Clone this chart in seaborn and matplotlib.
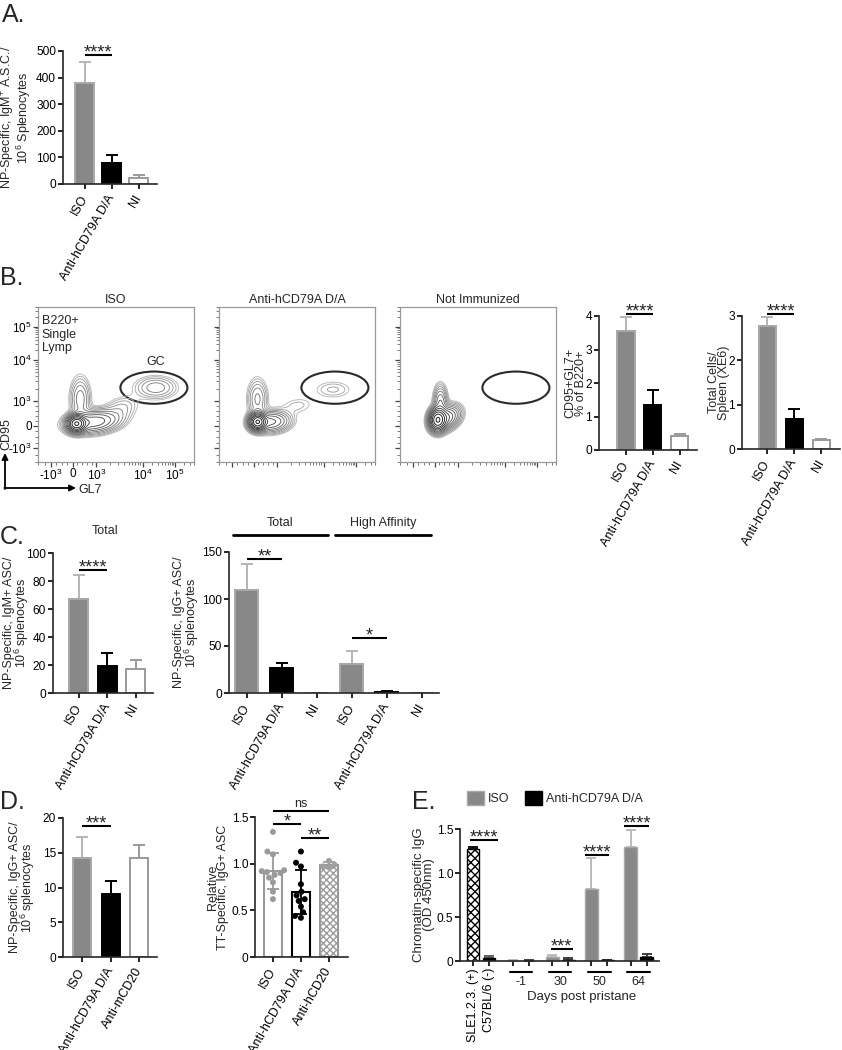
import numpy as np
import pandas as pd
import matplotlib
matplotlib.use('Agg')
import matplotlib.pyplot as plt
import seaborn as sns
from matplotlib.patches import Ellipse, Patch
from matplotlib.lines import Line2D

sns.set_style('ticks')
plt.rcParams['font.family'] = ['Liberation Sans', 'DejaVu Sans']
plt.rcParams['mathtext.default'] = 'regular'
plt.rcParams['axes.linewidth'] = 1.2
for k in ['xtick', 'ytick']:
    plt.rcParams[k + '.major.width'] = 1.2
    plt.rcParams[k + '.major.size'] = 3.5
    plt.rcParams[k + '.color'] = 'black'
    plt.rcParams[k + '.major.pad'] = 1.5
plt.rcParams['xtick.labelsize'] = 9
plt.rcParams['ytick.labelsize'] = 8.6

# ---------------- data ----------------
cats3 = ['ISO', 'Anti-hCD79A D/A', 'NI']
a_mean = [380, 78, 22]
a_top = [457, 110, 33]

flow_titles = ['ISO', 'Anti-hCD79A D/A', 'Not Immunized']
# gaussian components: (x, y, sx, sy, rho, weight)
flow_iso = [(38, 36, 5, 4.5, 0.0, 1.0), (56, 38, 15, 6.5, 0.2, 0.22), (42, 62, 6, 13, 0.0, 0.07),
            (85, 52, 11, 8, 0.3, 0.03), (122, 74, 13, 7, 0.0, 0.05)]
flow_anti = [(38, 38, 4.5, 4.5, 0.0, 1.0), (52, 38, 11, 6, 0.1, 0.18), (38, 62, 6, 12, 0.0, 0.06),
             (80, 55, 12, 6, 0.2, 0.015), (118, 72, 13, 6, 0.0, 0.02)]
flow_ni = [(37, 40, 4.5, 6, 0.0, 1.0), (46, 42, 8, 7, 0.3, 0.25), (40, 58, 4, 10, 0.0, 0.12)]
flow_ticks = ['-10$^3$', '0', '10$^3$', '10$^4$', '10$^5$']

b1_mean = [3.55, 1.33, 0.42]
b1_top = [3.97, 1.80, 0.47]
b2_mean = [2.78, 0.67, 0.21]
b2_top = [2.98, 0.90, 0.23]

c1_mean = [67, 19, 17]
c1_top = [84, 28.5, 23.5]
c2_cats = cats3 + cats3
c2_mean = [110, 27, 0, 31, 1.5, 0]
c2_top = [137, 32, 0, 45, 2.2, 0]

d1_cats = ['ISO', 'Anti-hCD79A D/A', 'Anti-mCD20']
d1_mean = [14.2, 9.0, 14.2]
d1_top = [17.3, 10.9, 16.1]
d2_cats = ['ISO', 'Anti-hCD79A D/A', 'Anti-hCD20']
d2_iso = [1.34, 1.13, 1.10, 0.93, 0.92, 0.91, 0.90, 0.88, 0.85, 0.80, 0.70, 0.62]
d2_anti = [1.13, 1.01, 0.97, 0.78, 0.70, 0.66, 0.62, 0.60, 0.54, 0.48, 0.44, 0.42]
d2_hcd20 = [1.03, 0.99, 0.97, 0.96]

e_ctrl = ['SLE1.2.3. (+)', 'C57BL/6 (-)']
e_ctrl_mean = [1.27, 0.03]
e_ctrl_top = [1.30, 0.06]
e_days = ['-1', '30', '50', '64']
e_iso_mean = [0.004, 0.04, 0.82, 1.29]
e_iso_top = [0.008, 0.065, 1.17, 1.49]
e_anti_mean = [0.004, 0.01, 0.01, 0.05]
e_anti_top = [0.01, 0.03, 0.015, 0.08]

# ---------------- style ----------------
GRAY = '#888888'
GRAY_EDGE = '#a8a8a8'
ERR_GRAY = '#b5b5b5'
WHITE_EDGE = '#9a9a9a'
STY = {'gray': (GRAY, GRAY_EDGE, ERR_GRAY),
       'black': ('black', 'black', 'black'),
       'white': ('white', WHITE_EDGE, WHITE_EDGE)}

W, H = 842, 1050
fig = plt.figure(figsize=(W / 100, H / 100), dpi=100)


def px_axes(l, t, r, b):
    return fig.add_axes([l / W, 1 - b / H, (r - l) / W, (b - t) / H])


def set_ylabel_px(ax, text, right_px, l, r, fs=9):
    ax.set_ylabel(text, fontsize=fs, linespacing=0.82)
    ax.yaxis.set_label_coords((right_px - l) / (r - l), 0.5)


def sig(ax, x1, x2, y, text, fs=13, off=-1.8):
    ax.plot([x1, x2], [y, y], color='k', lw=1.5, clip_on=False, solid_capstyle='butt')
    if text == 'ns':
        ax.annotate(text, ((x1 + x2) / 2, y), xytext=(0, 1.0), textcoords='offset points',
                    ha='center', va='bottom', fontsize=9, annotation_clip=False)
    else:
        ax.annotate(text, ((x1 + x2) / 2, y), xytext=(0, off), textcoords='offset points',
                    ha='center', va='baseline', fontsize=fs, annotation_clip=False)


def bar_panel(ax, labels, means, tops, styles, width, xlim, ylim, yticks, yticklabels=None, rot=60):
    ids = ['k%d' % i for i in range(len(means))]
    df = pd.DataFrame({'id': ids, 'v': means})
    sns.barplot(data=df, x='id', y='v', order=ids, color=GRAY, width=width,
                errorbar=None, ax=ax, saturation=1, zorder=2)
    for p, st in zip(ax.patches, styles):
        fc, ec, _ = STY[st]
        p.set_facecolor(fc)
        p.set_edgecolor(ec)
        p.set_linewidth(1.4)
    for i, (m, t, st) in enumerate(zip(means, tops, styles)):
        if t > m:
            ax.errorbar(i, m, yerr=[[0], [t - m]], fmt='none', ecolor=STY[st][2],
                        elinewidth=1.4, capsize=4, capthick=1.4, zorder=1)
    ax.set_xlim(*xlim)
    ax.set_ylim(*ylim)
    ax.set_yticks(yticks)
    if yticklabels is not None:
        ax.set_yticklabels(yticklabels)
    ax.set_xticks(range(len(labels)))
    ax.set_xticklabels(labels, rotation=rot, ha='right', va='center', rotation_mode='anchor')
    ax.tick_params(axis='x', pad=5)
    ax.set_xlabel('')
    sns.despine(ax=ax)


# ---------------- Panel A ----------------
l, t, r, b = 63, 51, 157, 184
axA = px_axes(l, t, r, b)
bar_panel(axA, cats3, a_mean, a_top, ['gray', 'black', 'white'], 0.7, (-0.81, 2.67), (0, 500),
          [0, 100, 200, 300, 400, 500])
set_ylabel_px(axA, 'NP-Specific, IgM$^{+}$ A.S.C./\n10$^{6}$ Splenocytes', 33, l, r)
sig(axA, 0, 1, 485, '****')

# ---------------- Panel B flow ----------------
fx = [11, 34, 59, 108, 142]
fy = [10, 34, 60, 103, 138]


def minor_pos(p):
    neg, zero, p3, p4, p5 = p
    m = []
    for a, bb in [(p3, p4), (p4, p5)]:
        m += [a + (bb - a) * np.log10(k) for k in range(2, 10)]
    m += [p5 + (p5 - p4) * np.log10(k) for k in range(2, 5)]
    m += list(np.linspace(zero, p3, 6)[1:-1]) + list(np.linspace(neg, zero, 5)[1:-1])
    m += [neg - (zero - neg) * f for f in (0.3, 0.6)]
    return m


def flow(ax, comps, title, labels):
    gx = np.linspace(0, 156, 320)
    gy = np.linspace(0, 155, 320)
    X, Y = np.meshgrid(gx, gy)
    Z = np.zeros_like(X)
    for cx, cy, sx, sy, rho, w in comps:
        dx = (X - cx) / sx
        dy = (Y - cy) / sy
        Z += w * np.exp(-(dx ** 2 - 2 * rho * dx * dy + dy ** 2) / (2 * (1 - rho ** 2)))
    n = 14
    levels = np.geomspace(Z.max() * 0.008, Z.max() * 0.92, n)
    cols = plt.cm.gray(np.linspace(0.72, 0.05, n))
    ax.contour(X, Y, Z, levels=levels, colors=cols, linewidths=0.65)
    ax.add_patch(Ellipse((120, 74), 71, 34, fill=False, edgecolor='#2a2a2a', lw=1.5))
    ax.set_xlim(0, 156)
    ax.set_ylim(0, 155)
    ax.set_xticks(fx)
    ax.set_yticks(fy)
    ax.set_xticks(minor_pos(fx), minor=True)
    ax.set_yticks(minor_pos(fy), minor=True)
    ax.tick_params(which='major', length=3.5, width=0.9, labelsize=8.5, color='#444444', pad=1)
    ax.tick_params(which='minor', length=2, width=0.6, color='#666666')
    if labels:
        ax.set_xticklabels(flow_ticks)
        ax.set_yticklabels(flow_ticks)
    else:
        ax.set_xticklabels([])
        ax.set_yticklabels([])
    for s in ax.spines.values():
        s.set_color('#9a9a9a')
        s.set_linewidth(0.9)
    ax.set_title(title, fontsize=9, pad=3)


axF1 = px_axes(38, 307, 194, 462)
flow(axF1, flow_iso, flow_titles[0], True)
axF1.text(0.025, 0.95, 'B220+\nSingle\nLymp', transform=axF1.transAxes, ha='left', va='top',
          fontsize=9, linespacing=1.2)
axF1.text(122, 101, 'GC', ha='center', va='center', fontsize=9)
axF2 = px_axes(219, 307, 375, 462)
flow(axF2, flow_anti, flow_titles[1], False)
axF3 = px_axes(400, 307, 556, 462)
flow(axF3, flow_ni, flow_titles[2], False)

axF1.annotate('', xy=(5, H - 453), xytext=(5, H - 489), xycoords='figure pixels',
              textcoords='figure pixels', annotation_clip=False,
              arrowprops=dict(arrowstyle='-|>', lw=1.3, color='k', mutation_scale=9,
                              shrinkA=0, shrinkB=0))
axF1.annotate('', xy=(76, H - 488), xytext=(4.4, H - 488), xycoords='figure pixels',
              textcoords='figure pixels', annotation_clip=False,
              arrowprops=dict(arrowstyle='-|>', lw=1.3, color='k', mutation_scale=9,
                              shrinkA=0, shrinkB=0))
fig.text(6 / W, 1 - 434 / H, 'CD95', rotation=90, ha='center', va='center', fontsize=9)
fig.text(78 / W, 1 - 490 / H, 'GL7', ha='left', va='center', fontsize=9)

# ---------------- Panel B bars ----------------
l, t, r, b = 599, 316, 697, 450
axB1 = px_axes(l, t, r, b)
bar_panel(axB1, cats3, b1_mean, b1_top, ['gray', 'black', 'white'], 0.63, (-1.0, 2.63), (0, 4),
          [0, 1, 2, 3, 4])
set_ylabel_px(axB1, 'CD95+GL7+\n% of B220+', 587, l, r)
sig(axB1, 0, 1, 4.05, '****')

l, t, r, b = 742, 316, 840, 449
axB2 = px_axes(l, t, r, b)
bar_panel(axB2, cats3, b2_mean, b2_top, ['gray', 'black', 'white'], 0.63, (-0.93, 2.7), (0, 3),
          [0, 1, 2, 3])
set_ylabel_px(axB2, 'Total Cells/\nSpleen (XE6)', 730, l, r)
sig(axB2, 0, 1, 3.05, '****')

# ---------------- Panel C ----------------
l, t, r, b = 53, 553, 153, 693
axC1 = px_axes(l, t, r, b)
bar_panel(axC1, cats3, c1_mean, c1_top, ['gray', 'black', 'white'], 0.67, (-0.91, 2.6), (0, 100),
          [0, 20, 40, 60, 80, 100])
set_ylabel_px(axC1, 'NP-Specific, IgM+ ASC/\n10$^{6}$ splenocytes', 31, l, r)
sig(axC1, 0, 1, 88, '****')
fig.text(105 / W, 1 - 531 / H, 'Total', ha='center', va='center', fontsize=9)

l, t, r, b = 229, 552, 439, 693
axC2 = px_axes(l, t, r, b)
bar_panel(axC2, c2_cats, c2_mean, c2_top, ['gray', 'black', 'white'] * 2, 0.66, (-0.51, 5.49),
          (0, 150), [0, 50, 100, 150])
set_ylabel_px(axC2, 'NP-Specific, IgG+ ASC/\n10$^{6}$ splenocytes', 201, l, r)
sig(axC2, 0, 1, 143, '**')
sig(axC2, 3, 4, 59, '*')
for x1, x2, xc, txt in [(233, 328, 280, 'Total'), (335, 431, 383, 'High Affinity')]:
    fig.add_artist(Line2D([x1 / W, x2 / W], [1 - 535 / H, 1 - 535 / H], color='k', lw=2))
    fig.text(xc / W, 1 - 523 / H, txt, ha='center', va='center', fontsize=9)

# ---------------- Panel D ----------------
l, t, r, b = 63, 818, 157, 957
axD1 = px_axes(l, t, r, b)
bar_panel(axD1, d1_cats, d1_mean, d1_top, ['gray', 'black', 'white'], 0.63, (-0.67, 2.63), (0, 20),
          [0, 5, 10, 15, 20])
set_ylabel_px(axD1, 'NP-Specific, IgG+ ASC/\n10$^{6}$ splenocytes', 37, l, r)
sig(axD1, 0, 1, 18.8, '***')

l, t, r, b = 255, 817, 348, 957
axD2 = px_axes(l, t, r, b)
d2_df = pd.DataFrame({'grp': [d2_cats[0]] * len(d2_iso) + [d2_cats[1]] * len(d2_anti)
                      + [d2_cats[2]] * len(d2_hcd20),
                      'val': d2_iso + d2_anti + d2_hcd20})
sns.barplot(data=d2_df, x='grp', y='val', order=d2_cats, errorbar=None, color='white',
            width=0.64, ax=axD2, saturation=1, zorder=1)
d2_styles = [('white', WHITE_EDGE, '', WHITE_EDGE), ('white', 'black', '', 'black'),
             ('white', '#9a9a9a', 'xxxxx', '#a0a0a0')]
for p, (fc, ec, hatch, _) in zip(axD2.patches, d2_styles):
    p.set_facecolor(fc)
    p.set_edgecolor(ec)
    p.set_hatch(hatch)
    p.set_linewidth(1.5)
stats = d2_df.groupby('grp')['val'].agg(['mean', 'std']).reindex(d2_cats)
for i, (g, row) in enumerate(stats.iterrows()):
    axD2.errorbar(i, row['mean'], yerr=row['std'], fmt='none', ecolor=d2_styles[i][3],
                  elinewidth=1.3, capsize=4, capthick=1.3, zorder=3)
sns.swarmplot(data=d2_df, x='grp', y='val', order=d2_cats, hue='grp',
              palette={d2_cats[0]: '#9a9a9a', d2_cats[1]: 'black', d2_cats[2]: '#a0a0a0'},
              size=4.3, ax=axD2, legend=False, zorder=4)
axD2.set_xlim(-0.64, 2.68)
axD2.set_ylim(0, 1.5)
axD2.set_yticks([0, 0.5, 1.0, 1.5])
axD2.set_yticklabels(['0', '0.5', '1.0', '1.5'])
axD2.set_xticks(range(3))
axD2.set_xticklabels(d2_cats, rotation=60, ha='right', va='center', rotation_mode='anchor')
axD2.tick_params(axis='x', pad=5)
axD2.set_xlabel('')
sns.despine(ax=axD2)
set_ylabel_px(axD2, 'Relative\nTT-Specific, IgG+ ASC', 229, l, r)
sig(axD2, 0, 2, 1.565, 'ns')
sig(axD2, 0, 1, 1.425, '*')
sig(axD2, 1, 2, 1.275, '**')

# ---------------- Panel E ----------------
l, t, r, b = 460, 829, 659, 961
axE = px_axes(l, t, r, b)
iso_pos = [2.5 + 2.45 * g for g in range(len(e_days))]
anti_pos = [p + 1 for p in iso_pos]
e_pos = [0, 1]
e_vals = list(e_ctrl_mean)
e_tops = list(e_ctrl_top)
e_kind = ['sle', 'c57']
for g in range(len(e_days)):
    e_pos += [iso_pos[g], anti_pos[g]]
    e_vals += [e_iso_mean[g], e_anti_mean[g]]
    e_tops += [e_iso_top[g], e_anti_top[g]]
    e_kind += ['iso', 'anti']
e_df = pd.DataFrame({'pos': e_pos, 'val': e_vals})
sns.barplot(data=e_df, x='pos', y='val', native_scale=True, errorbar=None, color=GRAY,
            width=0.8, ax=axE, saturation=1, zorder=2)
patches = sorted(axE.patches, key=lambda p: p.get_x())
kind_sty = {'sle': ('white', 'black', 'xxxx', 'black'), 'c57': ('black', 'black', '', '#555555'),
            'iso': (GRAY, GRAY_EDGE, '', ERR_GRAY), 'anti': ('black', 'black', '', '#333333')}
for p, k in zip(patches, e_kind):
    fc, ec, hatch, _ = kind_sty[k]
    p.set_facecolor(fc)
    p.set_edgecolor(ec)
    p.set_hatch(hatch)
    p.set_linewidth(1.0)
for x, m, tp, k in zip(e_pos, e_vals, e_tops, e_kind):
    axE.errorbar(x, m, yerr=[[0], [tp - m]], fmt='none', ecolor=kind_sty[k][3],
                 elinewidth=1.3, capsize=3.5, capthick=1.3, zorder=1)
axE.set_xlim(-0.81, 11.63)
axE.set_ylim(0, 1.5)
axE.set_yticks([0, 0.5, 1.0, 1.5])
axE.set_yticklabels(['0', '0.5', '1.0', '1.5'])
axE.set_xticks(e_pos)
axE.set_xticklabels(e_ctrl + [''] * (len(e_pos) - 2), rotation=90, ha='center', va='top')
axE.set_xlabel('')
sns.despine(ax=axE)
set_ylabel_px(axE, 'Chromatin-specific IgG\n(OD 450nm)', 435, l, r, fs=9.5)
tr = axE.get_xaxis_transform()
for g, d in enumerate(e_days):
    axE.plot([iso_pos[g] - 0.2, anti_pos[g] + 0.2], [-0.083, -0.083], transform=tr, color='k',
             lw=1.5, clip_on=False)
    axE.text((iso_pos[g] + anti_pos[g]) / 2, -0.16, d, transform=tr, ha='center', va='center',
             fontsize=9)
axE.text(0.61, -0.27, 'Days post pristane', transform=axE.transAxes, ha='center', va='center',
         fontsize=9.5)
sig(axE, -0.2, 1.55, 1.375, '****')
sig(axE, iso_pos[1] - 0.1, anti_pos[1] + 0.3, 0.136, '***')
sig(axE, iso_pos[2] - 0.4, anti_pos[2] + 0.1, 1.2, '****')
sig(axE, iso_pos[3] - 0.4, anti_pos[3] + 0.15, 1.53, '****')
handles = [Patch(facecolor=GRAY, edgecolor=GRAY_EDGE, label='ISO'),
           Patch(facecolor='black', edgecolor='black', label='Anti-hCD79A D/A')]
axE.legend(handles=handles, ncol=2, loc='lower left', bbox_to_anchor=(0.035, 1.18),
           frameon=False, fontsize=9, handlelength=1.4, handleheight=1.3, handletextpad=0.3,
           columnspacing=1.2, borderaxespad=0, borderpad=0)

# ---------------- panel letters ----------------
for x, y, s in [(2, 3, 'A.'), (0, 266, 'B.'), (0, 525, 'C.'), (0, 790, 'D.'), (412, 790, 'E.')]:
    fig.text(x / W, 1 - y / H, s, ha='left', va='top', fontsize=18)

fig.savefig('out.png', dpi=100)
